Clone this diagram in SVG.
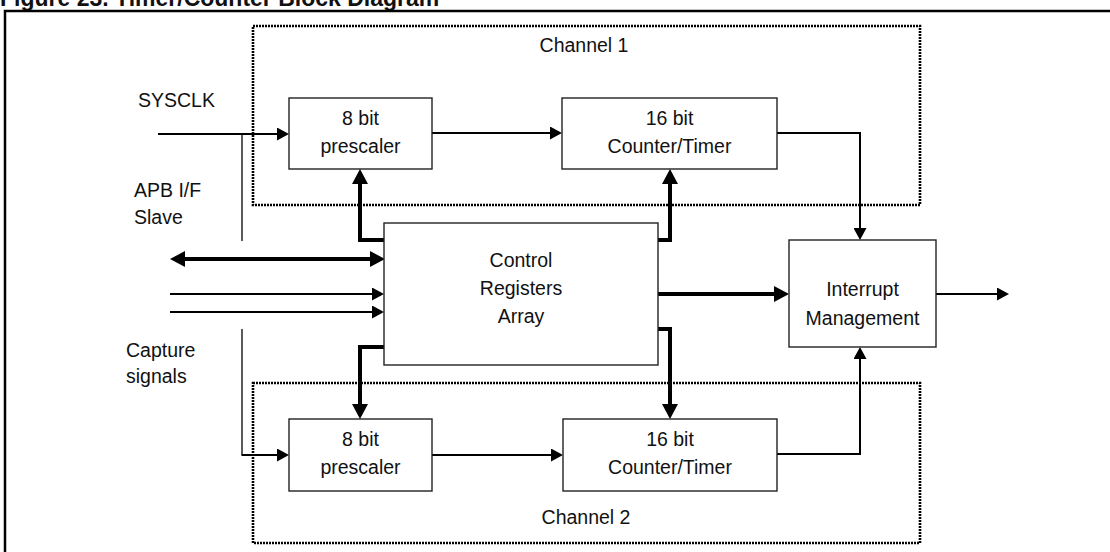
<svg xmlns="http://www.w3.org/2000/svg" width="1110" height="552" viewBox="0 0 1110 552">
<style>
text{font-family:"Liberation Sans",Arial,sans-serif;font-size:19.5px;fill:#111}
.c{text-anchor:middle}
.box{fill:#fff;stroke:#222;stroke-width:1.4}
.chan{fill:none;stroke:#000;stroke-width:2.6;stroke-dasharray:2 1}
.thin{fill:none;stroke:#000;stroke-width:2;marker-end:url(#a)}
.br{fill:none;stroke:#000;stroke-width:1.3}
.thick{fill:none;stroke:#000;stroke-width:4;marker-end:url(#b)}
</style>
<defs>
<marker id="a" viewBox="0 -6.5 12 13" refX="0" refY="0" markerWidth="12" markerHeight="13" markerUnits="userSpaceOnUse" orient="auto-start-reverse"><path d="M0,-6.5L12,0L0,6.5z" fill="#000"/></marker>
<marker id="b" viewBox="0 -8 15 16" refX="0" refY="0" markerWidth="15" markerHeight="16" markerUnits="userSpaceOnUse" orient="auto-start-reverse"><path d="M0,-8L15,0L0,8z" fill="#000"/></marker>
</defs>
<rect width="1110" height="552" fill="#fff"/>
<text x="0" y="6" style="font-weight:bold;font-size:23px">Figure 23.  Timer/Counter Block Diagram</text>
<rect x="5" y="11" width="1120" height="560" fill="none" stroke="#000" stroke-width="2.5"/>
<g id="channel1"><rect class="chan" x="253" y="26" width="667" height="179"/><text class="c" x="584" y="52">Channel 1</text></g>
<g id="channel2"><rect class="chan" x="253" y="383" width="667" height="160"/><text class="c" x="586" y="524">Channel 2</text></g>
<g id="labels">
<text x="138" y="107">SYSCLK</text>
<text x="134" y="197">APB I/F</text>
<text x="134" y="224">Slave</text>
<text x="126" y="357">Capture</text>
<text x="126" y="383">signals</text>
</g>
<g id="connectors">
<path class="thin" d="M158,134H277"/>
<path class="br" d="M242,134V241"/>
<path class="br" d="M242,329V455"/>
<path class="thin" d="M241.5,455H277"/>
<path class="thin" d="M170,294H372"/>
<path class="thin" d="M170,312H372"/>
<path class="thin" d="M432,133H550"/>
<path class="thin" d="M432,455H551"/>
<path class="thin" d="M777,133H860V228"/>
<path class="thin" d="M777,454H860V359"/>
<path class="thin" d="M936,294H997"/>
<path class="thick" d="M185,259H370" style="marker-start:url(#b)"/>
<path class="thick" d="M385,240H360V184"/>
<path class="thick" d="M657,240H670V184"/>
<path class="thick" d="M385,347H360V404"/>
<path class="thick" d="M657,329H670V404"/>
<path class="thick" d="M658,294H774"/>
</g>
<g id="prescaler1"><rect class="box" x="289" y="98" width="143" height="71"/><text class="c" x="360.5" y="125">8 bit</text><text class="c" x="360.5" y="153">prescaler</text></g>
<g id="counter1"><rect class="box" x="562" y="98" width="215" height="71"/><text class="c" x="669.5" y="125">16 bit</text><text class="c" x="669.5" y="153">Counter/Timer</text></g>
<g id="prescaler2"><rect class="box" x="289" y="419" width="143" height="72"/><text class="c" x="360.5" y="446">8 bit</text><text class="c" x="360.5" y="474">prescaler</text></g>
<g id="counter2"><rect class="box" x="563" y="419" width="214" height="72"/><text class="c" x="670" y="446">16 bit</text><text class="c" x="670" y="474">Counter/Timer</text></g>
<g id="control"><rect class="box" x="384" y="223" width="274" height="142"/><text class="c" x="521" y="267">Control</text><text class="c" x="521" y="295">Registers</text><text class="c" x="521" y="323">Array</text></g>
<g id="interrupt"><rect class="box" x="789" y="240" width="147" height="107"/><text class="c" x="862.5" y="296">Interrupt</text><text class="c" x="862.5" y="325">Management</text></g>
</svg>
